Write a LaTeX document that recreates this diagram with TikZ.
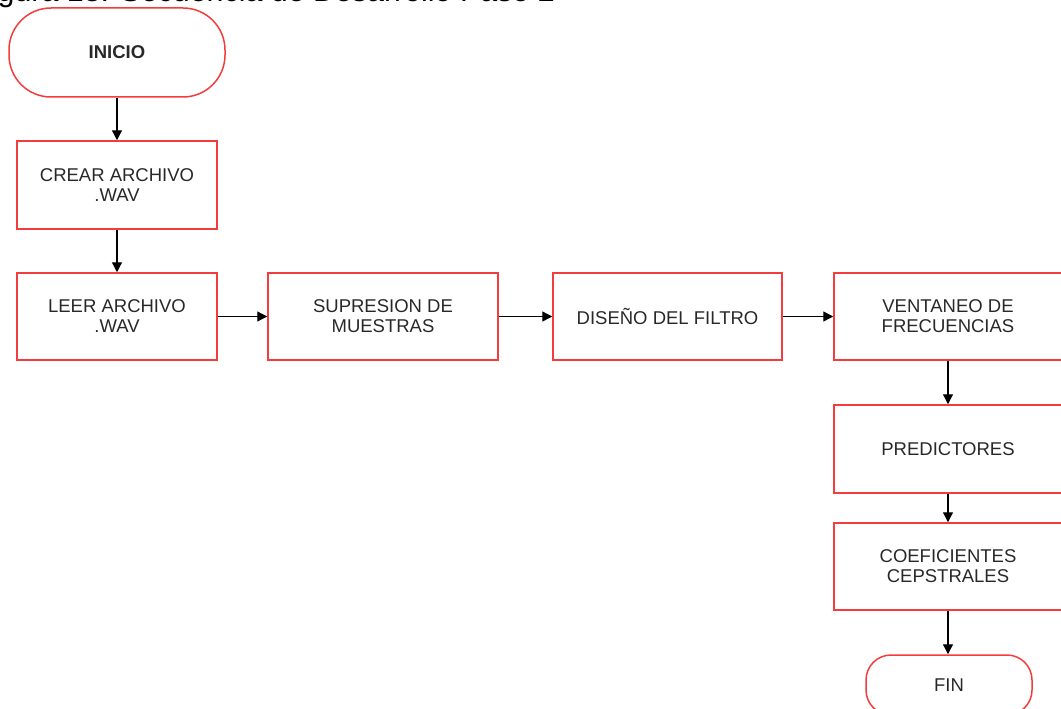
\documentclass[tikz,border=0pt]{standalone}
\usepackage{fontspec}
\setmainfont{Liberation Sans}
\usetikzlibrary{arrows.meta}
\definecolor{boxred}{RGB}{245,60,60}
\definecolor{txtgray}{RGB}{40,40,40}
\begin{document}
\begin{tikzpicture}[x=1pt,y=-1pt,
  every node/.style={font=\fontsize{18.5}{20}\selectfont, text=txtgray, align=center, inner sep=0pt},
  procbox/.style={draw=boxred, line width=1.5pt, minimum height=88pt},
  terminal/.style={draw=boxred, line width=1.5pt},
  flow/.style={draw=black, line width=1.3pt, -{Triangle[length=10pt,width=10pt]}}
]
\useasboundingbox (0,0) rectangle (1061,709);
\clip (0,0) rectangle (1061,709);

% caption line, running off the top edge
\node[anchor=base east, font=\fontsize{30.4}{32}\selectfont, text=black] (caption) at (555,2) {Figura 13. Secuencia de Desarrollo Paso 2};

% terminals
\node[terminal, minimum width=216pt, minimum height=89pt, rounded corners=42pt, font=\bfseries\fontsize{18.5}{20}\selectfont] (inicio) at (117,52.5) {INICIO};
\node[terminal, minimum width=166pt, minimum height=60pt, rounded corners=25pt] (fin) at (949,685) {FIN};

% process boxes
\node[procbox, minimum width=200pt] (crear) at (117,185) {CREAR ARCHIVO\\.WAV};
\node[procbox, minimum width=200pt, minimum height=87pt] (leer) at (117,316.5) {LEER ARCHIVO\\.WAV};
\node[procbox, minimum width=230pt, minimum height=87pt] (supr) at (383,316.5) {SUPRESION DE\\MUESTRAS};
\node[procbox, minimum width=229pt, minimum height=87pt] (filtro) at (667.5,316.5) {DISEÑO DEL FILTRO};
\node[procbox, minimum width=228pt, minimum height=87pt] (vent) at (948,316.5) {VENTANEO DE\\FRECUENCIAS};
\node[procbox, minimum width=228pt] (pred) at (948,449) {PREDICTORES};
\node[procbox, minimum width=228pt, minimum height=87pt] (coef) at (948,566.5) {COEFICIENTES\\CEPSTRALES};

% connectors
\draw[flow] (inicio) -- (crear);
\draw[flow] (crear) -- (leer);
\draw[flow] (leer) -- (supr);
\draw[flow] (supr) -- (filtro);
\draw[flow] (filtro) -- (vent);
\draw[flow] (vent) -- (pred);
\draw[flow] (pred) -- (coef);
\draw[flow] (coef.south) -- (coef.south |- fin.north);
\end{tikzpicture}
\end{document}
